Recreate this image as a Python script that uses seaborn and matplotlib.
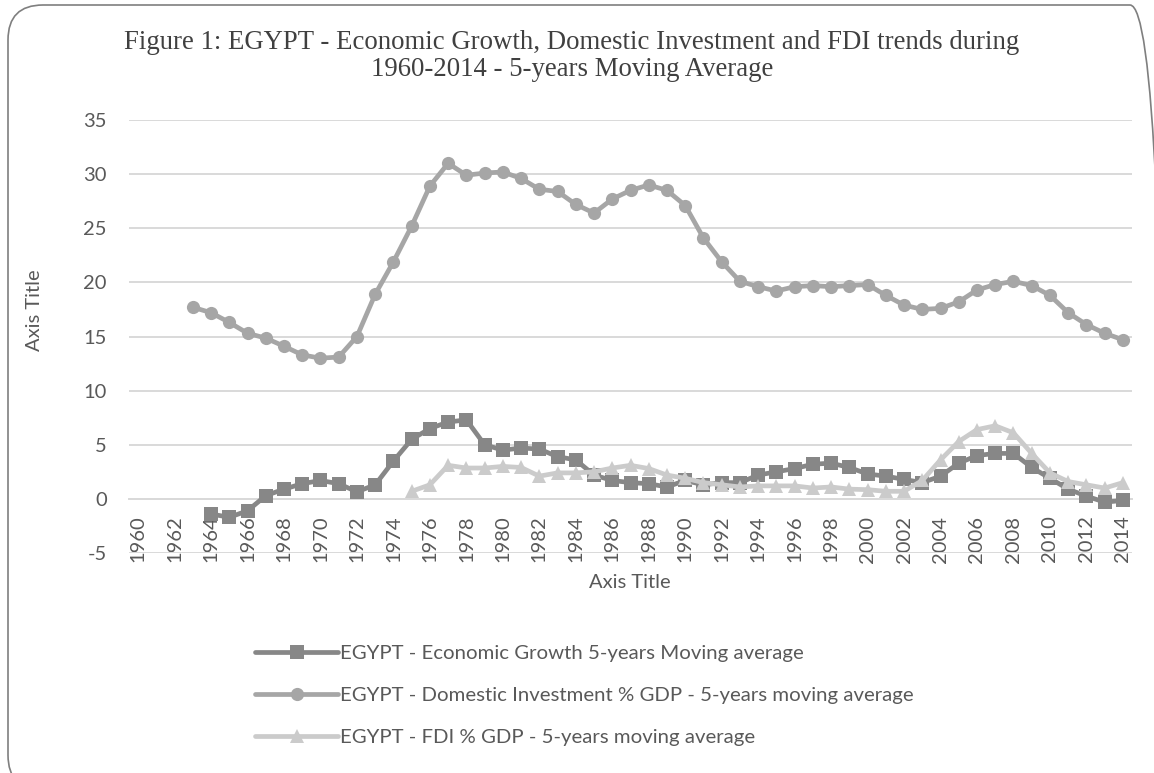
import numpy as np
import pandas as pd
import matplotlib
matplotlib.use("Agg")
import matplotlib.pyplot as plt
import seaborn as sns
from matplotlib.patches import FancyBboxPatch
from matplotlib.transforms import IdentityTransform

# ---------------- data ----------------
years = list(range(1960, 2015))
tick_years = list(range(1960, 2015, 2))

growth_years = list(range(1964, 2015))
growth = [-1.4, -1.7, -1.1, 0.3, 0.9, 1.4, 1.7, 1.4, 0.65, 1.3, 3.5, 5.5, 6.5, 7.1,
          7.3, 5.0, 4.5, 4.7, 4.6, 3.9, 3.6, 2.2, 1.7, 1.5, 1.4, 1.1, 1.7, 1.3, 1.5,
          1.5, 2.2, 2.5, 2.8, 3.2, 3.3, 2.9, 2.3, 2.1, 1.8, 1.5, 2.1, 3.3, 4.0, 4.2,
          4.2, 2.9, 1.9, 0.9, 0.25, -0.3, -0.15]

invest_years = list(range(1963, 2015))
invest = [17.7, 17.2, 16.3, 15.3, 14.85, 14.1, 13.3, 13.0, 13.1, 15.0, 18.9, 21.9,
          25.2, 28.9, 31.0, 29.9, 30.1, 30.2, 29.6, 28.6, 28.4, 27.2, 26.4, 27.7,
          28.5, 29.0, 28.5, 27.1, 24.1, 21.9, 20.1, 19.6, 19.2, 19.6, 19.7, 19.6,
          19.7, 19.8, 18.8, 17.9, 17.5, 17.6, 18.2, 19.3, 19.8, 20.1, 19.7, 18.8,
          17.2, 16.1, 15.3, 14.7]

fdi_years = list(range(1975, 2015))
fdi = [0.7, 1.3, 3.1, 2.85, 2.85, 3.0, 2.9, 2.1, 2.4, 2.4, 2.5, 2.85, 3.1, 2.8, 2.2,
       1.9, 1.5, 1.3, 1.1, 1.2, 1.2, 1.2, 1.0, 1.1, 0.9, 0.85, 0.7, 0.7, 1.7, 3.6,
       5.3, 6.4, 6.75, 6.1, 4.2, 2.4, 1.6, 1.3, 1.0, 1.5]

series_labels = [
    "EGYPT - Economic Growth 5-years Moving average",
    "EGYPT - Domestic Investment % GDP - 5-years moving average",
    "EGYPT - FDI % GDP - 5-years moving average",
]
title_text = ("Figure 1: EGYPT - Economic Growth, Domestic Investment and FDI trends during\n"
              "1960-2014 - 5-years Moving Average")

# ---------------- style ----------------
sns.set_theme(style="white")
plt.rcParams["font.family"] = ["Lato", "DejaVu Sans"]
plt.rcParams["axes.unicode_minus"] = False
text_col = "#595959"

fig = plt.figure(figsize=(11.54, 7.73), dpi=100)
W, H = 1154, 773
ax = fig.add_axes([129 / W, 1 - 553 / H, (1132 - 129) / W, (553 - 120) / H])

colors = ["#878787", "#a6a6a6", "#cbcbcb"]
markers = ["s", "o", "^"]
msizes = [9.5, 9.5, 10]
xs = [growth_years, invest_years, fdi_years]
ys = [growth, invest, fdi]

for x, y, c, m, ms, lab in zip(xs, ys, colors, markers, msizes, series_labels):
    df = pd.DataFrame({"year": x, "value": y})
    sns.lineplot(data=df, x="year", y="value", ax=ax, color=c, linewidth=3.4,
                 marker=m, markersize=ms, markeredgewidth=0, markeredgecolor=c,
                 label=lab, zorder=3)

ax.set_xlim(1959.5, 2014.5)
ax.set_ylim(-5, 35)
ax.set_yticks(np.arange(-5, 36, 5))
ax.set_xticks(tick_years)
ax.set_xticklabels([str(t) for t in tick_years])
ax.grid(axis="y", color="#d9d9d9", linewidth=1.4, zorder=0)
ax.grid(axis="x", visible=False)
for s in ["top", "right", "left"]:
    ax.spines[s].set_visible(False)
ax.spines["bottom"].set_position(("data", 0))
ax.spines["bottom"].set_color("#d9d9d9")
ax.spines["bottom"].set_linewidth(1.4)
ax.tick_params(axis="x", length=0, pad=12, labelsize=14.5, colors=text_col,
               labelrotation=90)
ax.tick_params(axis="y", length=0, pad=16, labelsize=14.5, colors=text_col)
ax.set_xlabel("")
ax.set_ylabel("")

fig.text(630 / W, 1 - 582 / H, "Axis Title", ha="center", va="center",
         fontsize=14.5, color=text_col)
fig.text(35 / W, 1 - 310 / H, "Axis Title", ha="center", va="center",
         rotation=90, fontsize=14.5, color=text_col)

fig.text(572 / W, 1 - 56 / H, title_text, ha="center", va="center",
         fontsize=19.3, color="#404040", family=["Liberation Serif"],
         linespacing=1.1)

handles, labels = ax.get_legend_handles_labels()
leg = fig.legend(handles, labels, loc="upper left",
                 bbox_to_anchor=(255 / W, 1 - 645 / H), frameon=False,
                 fontsize=14.7, handlelength=4.07, handletextpad=0.08,
                 labelspacing=1.2, borderpad=0, borderaxespad=0)
for t in leg.get_texts():
    t.set_color(text_col)
if ax.get_legend() is not None:
    ax.get_legend().remove()

border = FancyBboxPatch((8, -17), 1157, 785,
                        boxstyle="round,pad=0,rounding_size=35",
                        transform=IdentityTransform(), facecolor="none",
                        edgecolor="#7f7f7f", linewidth=1.2)
fig.patches.append(border)

fig.savefig("out.png", dpi=100)
